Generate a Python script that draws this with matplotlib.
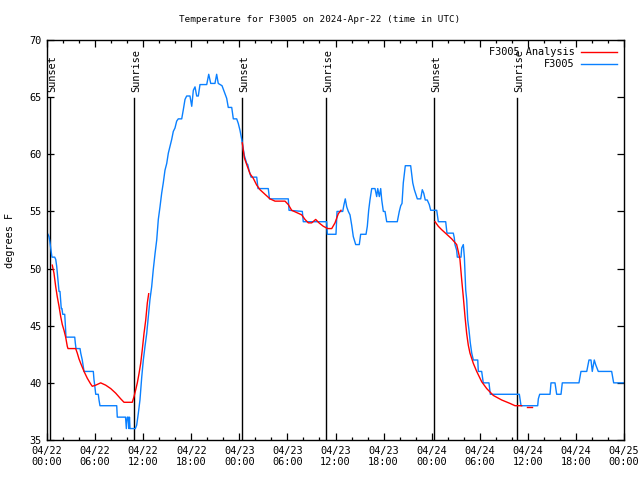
import matplotlib
matplotlib.use("Agg")
import matplotlib.pyplot as plt
from matplotlib.ticker import MultipleLocator

# ---- data (hours since 2024-04-22 00:00 UTC, temperature in F) ----
obs_hours = [0.12, 0.25, 0.37, 0.46, 0.62, 0.96, 1.09, 1.21, 1.37, 1.50, 1.62, 1.78, 1.87, 1.96,
             2.21, 2.28, 2.37, 3.46, 3.53, 3.62, 4.12, 4.21, 4.40, 4.62, 5.78, 5.86, 5.95, 6.08,
             6.40, 6.49, 6.61, 8.70, 8.77, 9.61, 9.80, 9.90, 10.02, 10.14, 10.23, 10.29, 10.36,
             11.02, 11.19, 11.39, 11.60, 11.82, 12.02, 12.23, 12.44, 12.64, 12.85, 13.06, 13.26,
             13.48, 13.69, 13.89, 14.10, 14.31, 14.51, 14.72, 14.94, 15.14, 15.35, 15.56, 15.76,
             15.97, 16.18, 16.38, 16.81, 17.01, 17.22, 17.43, 17.84, 18.06, 18.26, 18.47, 18.68,
             18.88, 19.09, 19.93, 20.18, 20.43, 20.96, 21.17, 21.37, 21.84, 22.21, 22.42, 22.62,
             23.05, 23.25, 23.67, 23.87, 24.08, 24.30, 24.50, 24.62, 24.79, 24.92, 25.05, 25.21,
             25.33, 25.46, 26.17, 26.33, 27.61, 27.76, 30.11, 30.20, 31.86, 31.98, 34.90, 34.98,
             36.06, 36.19, 36.90, 37.06, 37.22, 37.40, 37.60, 37.81, 38.02, 38.22, 38.52, 38.97,
             39.14, 39.81, 39.97, 40.14, 40.30, 40.52, 40.93, 41.14, 41.27, 41.47, 41.64, 41.77,
             41.97, 42.18, 42.39, 43.71, 43.96, 44.14, 44.30, 44.46, 44.71, 45.38, 45.64, 45.84,
             46.21, 46.63, 46.83, 47.01, 47.20, 47.45, 47.70, 47.88, 48.63, 48.83, 49.75, 49.91,
             50.70, 50.82, 50.91, 51.12, 51.20, 51.66, 51.75, 51.95, 52.08, 52.17, 52.25, 52.37,
             52.50, 52.66, 52.82, 53.00, 53.20, 53.75, 53.82, 54.24, 54.44, 55.15, 55.32, 58.94,
             59.15, 61.23, 61.31, 61.48, 62.77, 62.89, 63.39, 63.60, 64.14, 64.30, 66.38, 66.63,
             67.35, 67.63, 67.88, 68.04, 68.29, 68.46, 68.79, 70.46, 70.71, 72.0]
obs_temp = [53.0, 52.8, 52.3, 51.8, 51.0, 51.0, 50.8, 50.2, 49.0, 48.0, 48.0, 46.5, 46.5, 46.0,
            46.0, 45.2, 44.0, 44.0, 43.5, 43.0, 43.0, 42.6, 42.0, 41.0, 41.0, 40.3, 39.8, 39.0,
            39.0, 38.5, 38.0, 38.0, 37.0, 37.0, 37.0, 36.0, 37.0, 37.0, 36.0, 37.0, 36.0,
            36.0, 36.3, 37.3, 38.5, 40.5, 42.0, 43.2, 44.3, 45.8, 47.3, 48.4, 49.9,
            51.3, 52.5, 54.3, 55.4, 56.6, 57.5, 58.6, 59.2, 60.1, 60.7, 61.3, 62.0,
            62.3, 62.9, 63.1, 63.1, 63.9, 64.8, 65.1, 65.1, 64.2, 65.6, 65.9, 65.1,
            65.1, 66.1, 66.1, 67.0, 66.2, 66.2, 67.0, 66.2, 66.0, 65.3, 64.9, 64.1,
            64.1, 63.1, 63.1, 62.7, 62.1, 61.3, 60.4, 59.9, 59.5, 59.2, 59.1, 58.6,
            58.3, 58.0, 58.0, 57.0, 57.0, 56.1, 56.1, 55.1, 55.0, 54.1, 54.1, 53.0,
            53.0, 55.0, 55.0, 55.6, 56.1, 55.4, 55.0, 54.7, 53.8, 52.8, 52.1, 52.1,
            53.0, 53.0, 53.7, 55.1, 56.0, 57.0, 57.0, 56.3, 57.0, 56.3, 57.0, 56.0,
            55.0, 55.0, 54.1, 54.1, 55.0, 55.5, 55.7, 57.5, 59.0, 59.0, 57.5, 56.9,
            56.1, 56.1, 56.9, 56.6, 56.0, 56.0, 55.6, 55.1, 55.1, 54.1, 54.1, 53.1,
            53.1, 52.7, 52.1, 51.6, 51.0, 51.0, 51.8, 52.1, 51.0, 49.5, 48.1, 47.3,
            45.5, 44.6, 43.5, 42.6, 42.0, 42.0, 41.0, 41.0, 40.0, 40.0, 39.0, 39.0,
            38.0, 38.0, 38.6, 39.0, 39.0, 40.0, 40.0, 39.0, 39.0, 40.0, 40.0, 41.0,
            41.0, 42.0, 42.0, 41.0, 42.0, 41.6, 41.0, 41.0, 40.0, 40.0]

ana1_hours = [0.66, 0.87, 1.09, 1.29, 1.50, 1.71, 1.91, 2.12, 2.33, 2.53, 2.62, 3.58, 3.78, 3.99,
              4.21, 4.62, 5.03, 5.45, 5.65, 6.08, 6.70, 7.32, 7.95, 8.57, 9.20, 9.61, 10.02,
              10.64, 10.86, 11.07, 11.27, 11.48, 11.69, 11.89, 12.10, 12.32, 12.52, 12.69]
ana1_temp = [50.3, 49.6, 48.4, 47.5, 46.7, 45.8, 45.1, 44.6, 44.0, 43.2, 43.0, 43.0, 42.6, 42.1,
             41.7, 41.0, 40.4, 39.9, 39.7, 39.8, 40.0, 39.8, 39.5, 39.1, 38.6, 38.3, 38.3,
             38.3, 38.8, 39.4, 40.0, 40.8, 41.7, 42.9, 44.3, 45.5, 47.0, 47.8]
ana2_hours = [24.37, 24.62, 24.92, 25.33, 25.74, 26.17, 26.58, 27.20, 27.83, 28.45, 29.07, 29.70,
              30.11, 30.53, 31.16, 31.78, 32.19, 32.61, 33.03, 33.53, 33.94, 34.48, 35.03,
              35.53, 35.94, 36.35, 36.69]
ana2_temp = [61.0, 59.7, 59.1, 58.3, 57.9, 57.3, 56.9, 56.5, 56.1, 55.9, 55.9, 55.9,
             55.6, 55.1, 54.9, 54.7, 54.3, 54.0, 54.0, 54.3, 54.0, 53.7, 53.5,
             53.5, 54.0, 54.8, 55.1]
ana3_hours = [48.42, 48.83, 49.25, 49.88, 50.50, 51.12, 51.32, 51.53, 51.75, 51.95, 52.16, 52.37,
              52.57, 52.78, 53.20, 53.62, 54.24, 54.87, 55.69, 56.74, 57.78, 58.40, 59.23]
ana3_temp = [54.1, 53.7, 53.4, 53.0, 52.6, 52.1, 51.5, 50.8, 49.0, 47.5, 45.8, 44.3,
             43.3, 42.6, 41.7, 41.0, 40.1, 39.5, 38.9, 38.5, 38.2, 38.0, 38.0]
ana4_hours = [59.86, 60.48]
ana4_temp = [37.9, 37.9]

sun_hours = [0.41, 10.90, 24.36, 34.85, 48.33, 58.71]
sun_labels = ["Sunset", "Sunrise", "Sunset", "Sunrise", "Sunset", "Sunrise"]

xtick_hours = [0, 6, 12, 18, 24, 30, 36, 42, 48, 54, 60, 66, 72]
xtick_labels = ["04/22\n00:00", "04/22\n06:00", "04/22\n12:00", "04/22\n18:00",
                "04/23\n00:00", "04/23\n06:00", "04/23\n12:00", "04/23\n18:00",
                "04/24\n00:00", "04/24\n06:00", "04/24\n12:00", "04/24\n18:00",
                "04/25\n00:00"]

FONT = "DejaVu Sans Mono"
FS = 7.4
RED = "#ff0000"
BLUE = "#0a80ff"

fig = plt.figure(figsize=(6.4, 4.8), dpi=100)
ax = fig.add_axes([47/640, 1-440/480, (624-47)/640, 400/480])

for i, (hh, tt) in enumerate([(ana1_hours, ana1_temp), (ana2_hours, ana2_temp),
                              (ana3_hours, ana3_temp), (ana4_hours, ana4_temp)]):
    ax.plot(hh, tt, color=RED, lw=1.0, label="F3005 Analysis" if i == 0 else None, zorder=3)
ax.plot(obs_hours, obs_temp, color=BLUE, lw=1.0, label="F3005", zorder=2)

for h, lab in zip(sun_hours, sun_labels):
    ax.plot([h, h], [35, 64.93], color="black", lw=1.0, zorder=1)
    ax.annotate(lab, xy=(h, 65.45), xytext=(1.2, 0), textcoords="offset points",
                rotation=90, ha="center", va="bottom", fontsize=FS, family=FONT)

ax.set_xlim(0, 72)
ax.set_ylim(35, 70)
ax.set_xticks(xtick_hours)
ax.set_xticklabels(xtick_labels, fontsize=FS, family=FONT)
ax.xaxis.set_minor_locator(MultipleLocator(2))
ax.yaxis.set_major_locator(MultipleLocator(5))
for lab in ax.get_yticklabels():
    lab.set_fontsize(FS)
    lab.set_family(FONT)
ax.tick_params(which="major", direction="in", length=5, width=0.9, top=True, right=True, pad=4)
ax.tick_params(which="minor", direction="in", length=2.5, width=0.9, top=True, right=True)
for s in ax.spines.values():
    s.set_linewidth(1.0)

ax.set_ylabel("degrees F", fontsize=FS, family=FONT, labelpad=10)
fig.text(0.5, 1 - 19/480, "Temperature for F3005 on 2024-Apr-22 (time in UTC)", fontsize=6.7,
         family=FONT, ha="center", va="center")

leg = ax.legend(loc="upper right", frameon=False, markerfirst=False, prop={"family": FONT, "size": FS},
                handlelength=3.5, handletextpad=0.6, borderaxespad=0.3, labelspacing=0.2)

fig.savefig("out.png", dpi=100)
